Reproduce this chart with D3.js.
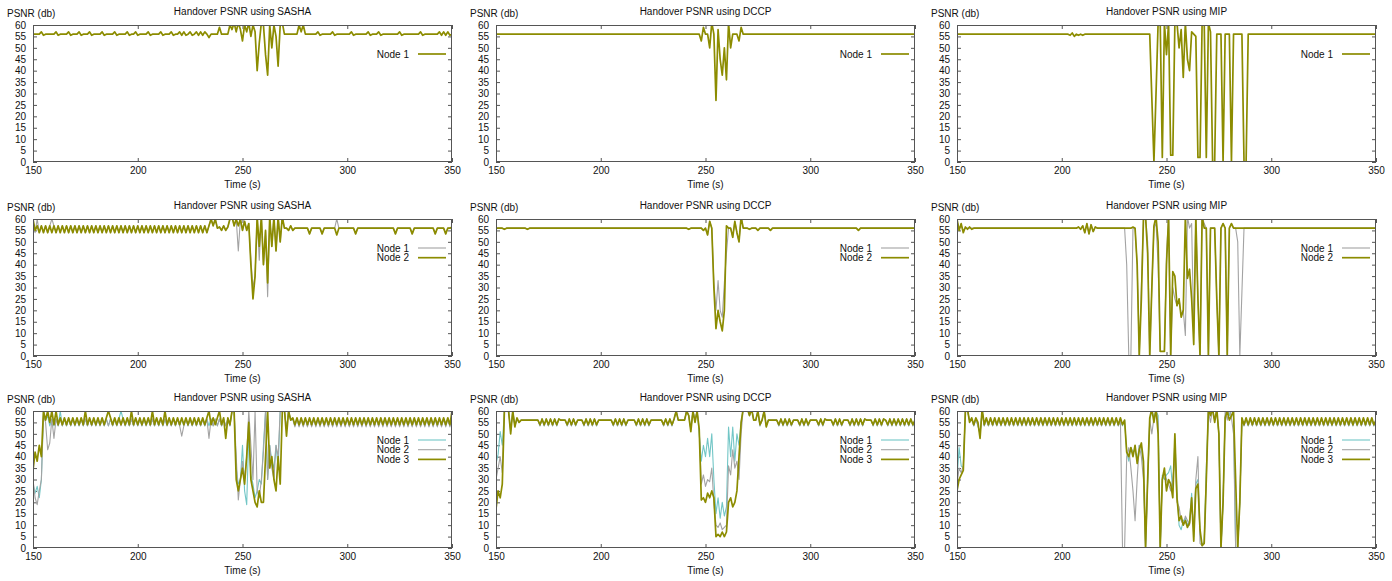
<!DOCTYPE html>
<html>
<head>
<meta charset="utf-8">
<script src="https://cdnjs.cloudflare.com/ajax/libs/d3/7.8.5/d3.min.js"></script>
<style>
  body { margin: 0; background: #fff; }
  svg { display: block; font-family: "Liberation Sans", Arial, sans-serif; }
</style>
</head>
<body>
<div id="wrapper"></div>
<script>

// one PSNR sample per second, 150 s .. 350 s (201 values per node)
var startTime = 150;

var xTicks = [150, 200, 250, 300, 350];
var yTicks = [0, 5, 10, 15, 20, 25, 30, 35, 40, 45, 50, 55, 60];
var protocols = ['SASHA', 'DCCP', 'MIP'];
var nodeLabels = ['Node 1', 'Node 2', 'Node 3'];

/*** 1 node ***/
var sasha1Node1 = [
  56, 56, 56, 56, 57, 55.5, 56, 56, 56, 56,
  56, 57, 55.5, 56, 56, 56, 56, 57, 55.5, 56,
  56, 56, 57, 55.5, 56, 56, 56, 57, 55.5, 56,
  56, 56, 56, 57, 55.5, 56, 56, 56, 56, 57,
  55.5, 56, 56, 56, 56, 57, 55.5, 56, 56, 57,
  55.5, 56, 56, 56, 56, 57, 55.5, 56, 56, 56,
  56, 57, 55.5, 56, 56, 56, 57, 55.5, 56, 56,
  57, 55.5, 57, 55.5, 56, 57, 55.5, 56, 57, 55.5,
  57, 55.5, 57, 56, 54.5, 56, 56, 56, 56, 59,
  56, 56, 56, 56, 60, 58, 61, 57, 61, 58,
  53, 60, 57, 61, 55, 60, 57, 40, 52, 61,
  60, 47, 38, 60, 50, 60, 55, 42, 60, 61,
  56, 56, 56, 56, 56, 56, 56, 60, 57, 60,
  56, 56, 56, 56, 56, 56, 57, 55.5, 56, 56,
  56, 56, 56, 57, 55.5, 56, 56, 56, 56, 56,
  56, 56, 57, 55.5, 56, 56, 56, 56, 56, 56,
  57, 55.5, 56, 56, 56, 57, 55.5, 56, 56, 56,
  56, 56, 56, 56, 56, 57, 55.5, 56, 56, 56,
  56, 56, 56, 56, 56, 57, 55.5, 56, 56, 56,
  56, 56, 56, 56, 57, 55.5, 57, 55.5, 57, 55.5,
  56
];

var dccp1Node1 = [
  56, 56, 56, 56, 56, 56, 56, 56, 56, 56,
  56, 56, 56, 56, 56, 56, 56, 56, 56, 56,
  56, 56, 56, 56, 56, 56, 56, 56, 56, 56,
  56, 56, 56, 56, 56, 56, 56, 56, 56, 56,
  56, 56, 56, 56, 56, 56, 56, 56, 56, 56,
  56, 56, 56, 56, 56, 56, 56, 56, 56, 56,
  56, 56, 56, 56, 56, 56, 56, 56, 56, 56,
  56, 56, 56, 56, 56, 56, 56, 56, 56, 56,
  56, 56, 56, 56, 56, 56, 56, 56, 56, 56,
  56, 56, 56, 56, 56, 56, 56, 56, 53, 59,
  56, 56, 50, 61, 56, 27, 58, 45, 38, 50,
  36, 61, 50, 56, 56, 56, 53, 59, 56, 56,
  56, 56, 56, 56, 56, 56, 56, 56, 56, 56,
  56, 56, 56, 56, 56, 56, 56, 56, 56, 56,
  56, 56, 56, 56, 56, 56, 56, 56, 56, 56,
  56, 56, 56, 56, 56, 56, 56, 56, 56, 56,
  56, 56, 56, 56, 56, 56, 56, 56, 56, 56,
  56, 56, 56, 56, 56, 56, 56, 56, 56, 56,
  56, 56, 56, 56, 56, 56, 56, 56, 56, 56,
  56, 56, 56, 56, 56, 56, 56, 56, 56, 56,
  56
];

var mip1Node1 = [
  56, 56, 56, 56, 56, 56, 56, 56, 56, 56,
  56, 56, 56, 56, 56, 56, 56, 56, 56, 56,
  56, 56, 56, 56, 56, 56, 56, 56, 56, 56,
  56, 56, 56, 56, 56, 56, 56, 56, 56, 56,
  56, 56, 56, 56, 56, 56, 56, 56, 56, 56,
  56, 56, 56, 56, 55.5, 56.5, 55, 56, 55.5, 56,
  55.5, 56, 56, 56, 56, 56, 56, 56, 56, 56,
  56, 56, 56, 56, 56, 56, 56, 56, 56, 56,
  56, 56, 56, 56, 56, 56, 56, 56, 56, 56,
  56, 56, 56, 28, 0, 30, 61, 61, 2, 61,
  47, 61, 3, 3, 61, 61, 50, 58, 37, 61,
  45, 40, 57, 56, 55, 2, 2, 61, 61, 2,
  61, 57, 0, 0, 56, 56, 56, 0, 56, 56,
  56, 0, 56, 56, 56, 56, 56, 0, 0, 56,
  56, 56, 56, 56, 56, 56, 56, 56, 56, 56,
  56, 56, 56, 56, 56, 56, 56, 56, 56, 56,
  56, 56, 56, 56, 56, 56, 56, 56, 56, 56,
  56, 56, 56, 56, 56, 56, 56, 56, 56, 56,
  56, 56, 56, 56, 56, 56, 56, 56, 56, 56,
  56, 56, 56, 56, 56, 56, 56, 56, 56, 56,
  56
];

/*** 2 nodes ***/
var sasha2Node1 = [
  57, 54, 60, 54, 57, 54, 57, 54, 57, 60,
  57, 54, 57, 54, 57, 54, 57, 54, 57, 54,
  57, 54, 57, 54, 57, 54, 57, 54, 57, 54,
  57, 54, 57, 54, 57, 54, 57, 54, 57, 54,
  57, 54, 57, 54, 57, 54, 57, 54, 57, 54,
  57, 54, 57, 54, 57, 54, 57, 54, 57, 54,
  57, 54, 57, 54, 57, 54, 57, 54, 57, 54,
  57, 54, 57, 54, 57, 54, 57, 54, 57, 54,
  57, 54, 57, 54, 57, 60, 57, 60, 56, 56.5,
  55, 57, 55, 56.5, 60, 61, 57, 60, 46, 60,
  55, 59, 55, 58, 42, 30, 35, 61, 42, 61,
  40, 55, 26, 61, 48, 61, 46, 61, 50, 61,
  56, 56, 55, 57, 55, 56, 56, 56, 56, 56,
  56, 56, 53.5, 56, 56, 56, 56, 56, 53.5, 56,
  56, 56, 56, 56, 56, 60, 56, 56, 56, 56,
  56, 56, 56, 56, 53.5, 56, 56, 56, 56, 56,
  56, 56, 56, 56, 56, 56, 56, 56, 56, 56,
  56, 56, 56, 53.5, 56, 56, 56, 56, 56, 56,
  56, 53.5, 56, 56, 56, 56, 56, 56, 56, 56,
  56, 56, 53.5, 56, 56, 56, 56, 53.5, 56, 56,
  55.5
];

var sasha2Node2 = [
  60, 55, 57, 54, 57, 54, 57, 54, 57, 54,
  57, 54, 57, 54, 57, 54, 57, 54, 57, 54,
  57, 54, 57, 54, 57, 54, 57, 54, 57, 54,
  57, 54, 57, 54, 57, 54, 57, 54, 57, 54,
  57, 54, 57, 54, 57, 54, 57, 54, 57, 54,
  57, 54, 57, 54, 57, 54, 57, 54, 57, 54,
  57, 54, 57, 54, 57, 54, 57, 54, 57, 54,
  57, 54, 57, 54, 57, 54, 57, 54, 57, 54,
  57, 54, 57, 54, 57, 60, 57, 60, 56, 56.5,
  55, 57, 55, 56.5, 60, 61, 57, 60, 57, 60,
  55, 59, 55, 58, 40, 25, 35, 61, 48, 61,
  40, 55, 32, 61, 48, 61, 46, 61, 50, 61,
  56, 56, 55, 57, 55, 56, 56, 56, 56, 56,
  56, 56, 53.5, 56, 56, 56, 56, 56, 53.5, 56,
  56, 56, 56, 56, 56, 53, 56, 56, 56, 56,
  56, 56, 56, 56, 53.5, 56, 56, 56, 56, 56,
  56, 56, 56, 56, 56, 56, 56, 56, 56, 56,
  56, 56, 56, 53.5, 56, 56, 56, 56, 56, 56,
  56, 53.5, 56, 56, 56, 56, 56, 56, 56, 56,
  56, 56, 53.5, 56, 56, 56, 56, 53.5, 56, 56,
  56.5
];

var dccp2Node1 = [
  56, 56, 56, 56, 55.5, 56, 56, 56, 56, 56,
  56, 56, 56, 56, 56, 55.5, 56, 56, 56, 56,
  56, 56, 56, 56, 56, 56, 56, 56, 56, 56,
  56, 56, 56, 56, 56, 56, 56, 56, 56, 56,
  56, 56, 56, 56, 56, 56, 56, 56, 56, 56,
  56, 56, 56, 56, 56, 56, 56, 56, 56, 56,
  56, 56, 56, 56, 56, 56, 56, 56, 56, 56,
  56, 56, 56, 56, 56, 56, 56, 56, 56, 56,
  56, 56, 56, 56, 56, 56, 56, 56, 56, 56,
  56, 56, 55.5, 56, 56, 56, 56, 56, 56, 55,
  56, 53, 59, 56, 32, 20, 33, 20, 17, 32,
  45, 56, 56, 52, 59, 54, 50, 61, 56, 56,
  56, 55.5, 56, 56, 56, 55, 56, 56, 56, 56,
  56, 55, 56, 56, 56, 56, 56, 56, 56, 56,
  56, 56, 56, 56, 56, 56, 56, 56, 56, 56,
  56, 56, 56, 56, 56, 56, 56, 56, 56, 56,
  56, 56, 56, 56, 56, 56, 56, 56, 56, 56,
  56, 56, 56, 55, 56, 56, 56, 56, 56, 56,
  56, 56, 56, 56, 56, 56, 56, 56, 56, 56,
  56, 56, 56, 56, 56, 56, 56, 56, 56, 56,
  56
];

var dccp2Node2 = [
  56, 56, 56, 56, 55.5, 56, 56, 56, 56, 56,
  56, 56, 56, 56, 56, 55.5, 56, 56, 56, 56,
  56, 56, 56, 56, 56, 56, 56, 56, 56, 56,
  56, 56, 56, 56, 56, 56, 56, 56, 56, 56,
  56, 56, 56, 56, 56, 56, 56, 56, 56, 56,
  56, 56, 56, 56, 56, 56, 56, 56, 56, 56,
  56, 56, 56, 56, 56, 56, 56, 56, 56, 56,
  56, 56, 56, 56, 56, 56, 56, 56, 56, 56,
  56, 56, 56, 56, 56, 56, 56, 56, 56, 56,
  56, 56, 55.5, 56, 56, 56, 56, 56, 56, 55,
  56, 53, 59, 56, 30, 12, 20, 15, 11, 20,
  57, 56, 56, 52, 59, 54, 50, 61, 56, 56,
  56, 55.5, 56, 56, 56, 55, 56, 56, 56, 56,
  56, 55, 56, 56, 56, 56, 56, 56, 56, 56,
  56, 56, 56, 56, 56, 56, 56, 56, 56, 56,
  56, 56, 56, 56, 56, 56, 56, 56, 56, 56,
  56, 56, 56, 56, 56, 56, 56, 56, 56, 56,
  56, 56, 56, 55, 56, 56, 56, 56, 56, 56,
  56, 56, 56, 56, 56, 56, 56, 56, 56, 56,
  56, 56, 56, 56, 56, 56, 56, 56, 56, 56,
  56
];

var mip2Node1 = [
  59, 56, 57, 55, 56, 56, 56, 56, 56, 56,
  56, 56, 56, 56, 56, 56, 56, 56, 56, 56,
  56, 56, 56, 56, 56, 56, 56, 56, 56, 56,
  56, 56, 56, 56, 56, 56, 56, 56, 56, 56,
  56, 56, 56, 56, 56, 56, 56, 56, 56, 56,
  56, 56, 56, 56, 56, 56, 56, 56, 56.5, 55.5,
  57, 54, 58, 53.5, 57.5, 54.5, 56.5, 56, 56, 56,
  56, 56, 56, 56, 56, 56, 56, 56, 56, 56,
  56, 40, 0, 0, 56, 56, 40, 0, 30, 60,
  61, 50, 0, 30, 56, 58, 40, 2, 2, 2,
  45, 61, 0, 30, 25, 22, 25, 18, 20, 9,
  61, 56, 58, 10, 61, 25, 0, 61, 58, 56,
  0, 56, 56, 56, 25, 0, 56, 58, 56, 0,
  56, 58, 56, 56, 50, 0, 28, 56, 56, 56,
  56, 56, 56, 56, 56, 56, 56, 56, 56, 56,
  56, 56, 56, 56, 56, 56, 56, 56, 56, 56,
  56, 56, 56, 56, 56, 56, 56, 56, 56, 56,
  56, 56, 56, 56, 56, 56, 56, 56, 56, 56,
  56, 56, 56, 56, 56, 56, 56, 56, 56, 56,
  56, 56, 56, 56, 56, 56, 56, 56, 56, 56,
  56
];

var mip2Node2 = [
  60, 55, 58, 54, 56.5, 55.5, 56.5, 55.5, 56, 56,
  56, 56, 56, 56, 56, 56, 56, 56, 56, 56,
  56, 56, 56, 56, 56, 56, 56, 56, 56, 56,
  56, 56, 56, 56, 56, 56, 56, 56, 56, 56,
  56, 56, 56, 56, 56, 56, 56, 56, 56, 56,
  56, 56, 56, 56, 56, 56, 56, 56, 56.5, 55.5,
  57, 54, 58, 53.5, 57.5, 54.5, 56.5, 56, 56, 56,
  56, 56, 56, 56, 56, 56, 56, 56, 56, 56,
  56, 56, 56, 56, 56.5, 56, 40, 0, 25, 60,
  61, 45, 0, 30, 57, 61, 50, 2, 2, 2,
  40, 61, 0, 37, 35, 22, 25, 17, 20, 61,
  34, 38, 25, 5, 61, 25, 0, 61, 56, 56,
  0, 56, 56, 56, 25, 0, 56, 58, 56, 0,
  56, 58, 56, 56, 56, 56, 56, 56, 56, 56,
  56, 56, 56, 56, 56, 56, 56, 56, 56, 56,
  56, 56, 56, 56, 56, 56, 56, 56, 56, 56,
  56, 56, 56, 56, 56, 56, 56, 56, 56, 56,
  56, 56, 56, 56, 56, 56, 56, 56, 56, 56,
  56, 56, 56, 56, 56, 56, 56, 56, 56, 56,
  56, 56, 56, 56, 56, 56, 56, 56, 56, 56,
  56
];

/*** 3 nodes ***/
var sasha3Node1 = [
  28, 24, 27, 22, 30, 60, 56, 58, 53.5, 56.5,
  53.5, 56.5, 53.5, 60, 53.5, 56.5, 53.5, 56.5, 53.5, 56.5,
  53.5, 56.5, 53.5, 56.5, 53.5, 56.5, 53.5, 56.5, 53.5, 56.5,
  53.5, 56.5, 53.5, 56.5, 53.5, 56.5, 53.5, 56.5, 53.5, 56.5,
  53.5, 56.5, 60, 56.5, 53.5, 56.5, 53.5, 56.5, 53.5, 56.5,
  53.5, 56.5, 53.5, 56.5, 53.5, 56.5, 53.5, 56.5, 53.5, 56.5,
  53.5, 56.5, 53.5, 56.5, 53.5, 56.5, 53.5, 56.5, 53.5, 56.5,
  53.5, 56.5, 53.5, 56.5, 53.5, 56.5, 53.5, 56.5, 53.5, 56.5,
  53.5, 56.5, 53.5, 56.5, 53.5, 56.5, 53.5, 56.5, 53.5, 56.5,
  53.5, 56.5, 53.5, 56.5, 53.5, 60, 60, 35, 28, 30,
  45, 25, 19, 50, 32, 28, 22, 25, 30, 28,
  45, 60, 30, 45, 38, 35, 45, 35, 60, 61,
  60, 52, 60, 56, 56.5, 53.5, 56.5, 53.5, 56.5, 53.5,
  56.5, 53.5, 56.5, 53.5, 56.5, 53.5, 56.5, 53.5, 56.5, 53.5,
  56.5, 53.5, 56.5, 53.5, 56.5, 53.5, 56.5, 53.5, 56.5, 53.5,
  56.5, 53.5, 56.5, 53.5, 56.5, 53.5, 56.5, 53.5, 56.5, 53.5,
  56.5, 53.5, 56.5, 53.5, 56.5, 53.5, 56.5, 53.5, 56.5, 53.5,
  56.5, 53.5, 56.5, 53.5, 56.5, 53.5, 56.5, 53.5, 56.5, 53.5,
  56.5, 53.5, 56.5, 53.5, 56.5, 53.5, 56.5, 53.5, 56.5, 53.5,
  56.5, 53.5, 56.5, 53.5, 56.5, 53.5, 56.5, 53.5, 56.5, 53.5,
  58
];

var sasha3Node2 = [
  30, 22, 19, 25, 30, 58, 55, 43, 46, 56.5,
  48, 56.5, 53.5, 56.5, 53.5, 56.5, 53.5, 56.5, 53.5, 56.5,
  53.5, 56.5, 53.5, 56.5, 53.5, 56.5, 53.5, 56.5, 53.5, 56.5,
  53.5, 56.5, 53.5, 56.5, 53.5, 56.5, 53.5, 56.5, 53.5, 56.5,
  53.5, 56.5, 53.5, 56.5, 53.5, 56.5, 53.5, 56.5, 53.5, 56.5,
  53.5, 56.5, 53.5, 56.5, 53.5, 56.5, 53.5, 56.5, 53.5, 56.5,
  53.5, 56.5, 53.5, 56.5, 53.5, 56.5, 53.5, 56.5, 53.5, 56.5,
  53.5, 49, 53.5, 56.5, 53.5, 56.5, 53.5, 56.5, 53.5, 56.5,
  53.5, 56.5, 53.5, 56.5, 48, 56.5, 53.5, 56.5, 53.5, 56.5,
  53.5, 56.5, 53.5, 56.5, 53.5, 60, 60, 40, 21, 30,
  38, 30, 40, 60, 45, 30, 60, 25, 22, 30,
  42, 60, 30, 45, 35, 30, 45, 40, 60, 61,
  60, 52, 60, 56, 56.5, 53, 56.5, 53, 56.5, 53,
  56.5, 53, 56.5, 53, 56.5, 53, 56.5, 53, 56.5, 53,
  56.5, 53, 56.5, 53, 56.5, 53, 56.5, 53, 56.5, 53,
  56.5, 53, 56.5, 53, 56.5, 53, 56.5, 53, 56.5, 53,
  56.5, 53, 56.5, 53, 56.5, 53, 56.5, 53, 56.5, 53,
  56.5, 53, 56.5, 53, 56.5, 53, 56.5, 53, 56.5, 53,
  56.5, 53, 56.5, 53, 56.5, 53, 56.5, 53, 56.5, 53,
  56.5, 53, 56.5, 53, 56.5, 53, 56.5, 53, 56.5, 53,
  57
];

var sasha3Node3 = [
  34, 42, 38, 45, 40, 60, 56, 60, 55, 60,
  54, 60, 54, 57, 54, 57, 54, 57, 54, 57,
  54, 57, 54, 57, 54, 60, 54, 57, 54, 57,
  54, 57, 54, 57, 54, 57, 60, 57, 54, 57,
  54, 57, 54, 57, 54, 57, 54, 60, 54, 57,
  54, 57, 54, 57, 54, 57, 54, 60, 54, 57,
  54, 57, 54, 60, 54, 57, 54, 57, 54, 57,
  54, 57, 54, 57, 54, 57, 54, 57, 54, 57,
  54, 57, 54, 57, 60, 54, 57, 54, 57, 60,
  54, 57, 48, 57, 54, 60, 60, 30, 25, 30,
  35, 28, 40, 55, 30, 25, 20, 18, 25, 20,
  20, 40, 60, 35, 40, 30, 25, 40, 28, 60,
  61, 49, 60, 56, 57, 54, 57, 54, 57, 54,
  57, 54, 57, 54, 57, 54, 57, 54, 57, 54,
  57, 54, 57, 54, 57, 54, 57, 54, 57, 54,
  57, 54, 57, 54, 57, 54, 57, 54, 57, 54,
  57, 54, 57, 54, 57, 54, 57, 54, 57, 54,
  57, 54, 57, 54, 57, 54, 57, 54, 57, 54,
  57, 54, 57, 54, 57, 54, 57, 54, 57, 54,
  57, 54, 57, 54, 57, 54, 57, 54, 57, 54,
  60
];

var dccp3Node1 = [
  37, 41, 51, 45, 60, 61, 60, 52, 60, 53.5,
  56.5, 55, 56, 56, 56, 56, 56, 56, 56, 56,
  56, 53.5, 56.5, 53.5, 56.5, 53.5, 56.5, 53.5, 56.5, 53.5,
  56.5, 56, 56, 56, 53.5, 56.5, 53.5, 56.5, 53.5, 56,
  56, 56, 53.5, 56.5, 53.5, 56.5, 53.5, 56.5, 53.5, 56,
  56, 56, 56, 56, 56, 56, 53.5, 56.5, 53.5, 56.5,
  53.5, 56.5, 53.5, 56, 56, 56, 56, 53.5, 56.5, 53.5,
  56.5, 53.5, 56.5, 53.5, 56, 56, 56, 56, 56, 56,
  53.5, 56.5, 53.5, 56.5, 53.5, 56.5, 60, 56, 56, 56,
  56, 60, 58, 52, 60, 56, 60, 50, 38, 45,
  40, 48, 40, 50, 30, 15, 22, 13, 20, 14,
  18, 53, 40, 53, 38, 50, 45, 55, 61, 60,
  61, 58, 61, 56, 56, 60, 53.5, 56, 60, 53.5,
  56, 56, 56, 56, 56, 53.5, 56.5, 53.5, 56.5, 53.5,
  56.5, 53.5, 56, 56, 56, 53.5, 56.5, 53.5, 56.5, 53.5,
  56, 56, 56, 56, 53.5, 56.5, 53.5, 56.5, 56, 56,
  56, 53.5, 56.5, 53.5, 56.5, 53.5, 56, 56, 56, 53.5,
  56.5, 53.5, 56.5, 53.5, 56.5, 53.5, 56.5, 56, 56, 56,
  53.5, 56.5, 53.5, 56.5, 53.5, 56.5, 56, 53.5, 56.5, 53.5,
  56.5, 53.5, 56.5, 53.5, 56.5, 53.5, 56.5, 53.5, 56.5, 53.5,
  56
];

var dccp3Node2 = [
  30, 35, 40, 33, 60, 61, 60, 51, 60, 53.5,
  56.5, 55, 56, 56, 56, 56, 56, 56, 56, 56,
  56, 53.5, 56.5, 53.5, 56.5, 53.5, 56.5, 53.5, 56.5, 53.5,
  56.5, 56, 56, 56, 53.5, 56.5, 53.5, 56.5, 53.5, 56,
  56, 56, 53.5, 56.5, 53.5, 56.5, 53.5, 56.5, 53.5, 56,
  56, 56, 56, 56, 56, 56, 53.5, 56.5, 53.5, 56.5,
  53.5, 56.5, 53.5, 56, 56, 56, 56, 53.5, 56.5, 53.5,
  56.5, 53.5, 56.5, 53.5, 56, 56, 56, 56, 56, 56,
  53.5, 56.5, 53.5, 56.5, 53.5, 56.5, 60, 56, 56, 56,
  56, 60, 58, 52, 60, 56, 60, 52, 28, 32,
  27, 30, 29, 35, 20, 10, 9, 11, 8, 9,
  10, 36, 32, 43, 35, 38, 30, 50, 61, 60,
  61, 58, 61, 56, 56, 60, 53.5, 56, 60, 53.5,
  56, 56, 56, 56, 56, 53.5, 56.5, 53.5, 56.5, 53.5,
  56.5, 53.5, 56, 56, 56, 53.5, 56.5, 53.5, 56.5, 53.5,
  56, 56, 56, 56, 53.5, 56.5, 53.5, 56.5, 56, 56,
  56, 53.5, 56.5, 53.5, 56.5, 53.5, 56, 56, 56, 53.5,
  56.5, 53.5, 56.5, 53.5, 56.5, 53.5, 56.5, 56, 56, 56,
  53.5, 56.5, 53.5, 56.5, 53.5, 56.5, 56, 53.5, 56.5, 53.5,
  56.5, 53.5, 56.5, 53.5, 56.5, 53.5, 56.5, 53.5, 56.5, 53.5,
  56
];

var dccp3Node3 = [
  17, 25, 22, 28, 60, 61, 60, 50, 60, 53,
  57, 55, 56, 56, 56, 56, 56, 56, 56, 56,
  56, 54, 56.5, 54, 56.5, 54, 56.5, 54, 56.5, 54,
  56.5, 56, 56, 56, 54, 56.5, 54, 56.5, 54, 56,
  56, 56, 54, 56.5, 54, 56.5, 54, 56.5, 54, 56,
  56, 56, 56, 56, 56, 56, 54, 56.5, 54, 56.5,
  54, 56.5, 54, 56, 56, 56, 56, 54, 56.5, 54,
  56.5, 54, 56.5, 54, 56, 56, 56, 56, 56, 56,
  54, 56.5, 54, 56.5, 54, 56.5, 60, 56, 56, 56,
  56, 60, 58, 51, 60, 55, 60, 52, 21, 22,
  20, 24, 22, 25, 22, 5, 6, 5, 7, 5,
  7, 20, 22, 18, 20, 25, 40, 55, 61, 60,
  61, 58, 61, 56, 56, 60, 54, 56, 60, 53,
  56, 56, 56, 56, 56, 54, 56.5, 54, 56.5, 54,
  56.5, 54, 56, 56, 56, 54, 56.5, 54, 56.5, 54,
  56, 56, 56, 56, 54, 56.5, 54, 56.5, 56, 56,
  56, 54, 56.5, 54, 56.5, 54, 56, 56, 56, 54,
  56.5, 54, 56.5, 54, 56.5, 54, 56.5, 56, 56, 56,
  54, 56.5, 54, 56.5, 54, 56.5, 56, 54, 56.5, 54,
  56.5, 54, 56.5, 54, 56.5, 54, 56.5, 54, 56.5, 54,
  56
];

var mip3Node1 = [
  30, 44, 36, 35, 60, 60, 56, 56.5, 53.5, 56.5,
  53.5, 50, 60, 53.5, 56.5, 53.5, 56.5, 53.5, 56.5, 53.5,
  56.5, 53.5, 56.5, 53.5, 56.5, 53.5, 56.5, 53.5, 56.5, 53.5,
  56.5, 53.5, 56.5, 53.5, 56.5, 53.5, 56.5, 53.5, 56.5, 53.5,
  56.5, 53.5, 56.5, 53.5, 56.5, 53.5, 56.5, 53.5, 56.5, 53.5,
  56.5, 53.5, 56.5, 53.5, 56.5, 53.5, 56.5, 53.5, 56.5, 53.5,
  56.5, 53.5, 56.5, 53.5, 56.5, 53.5, 56.5, 53.5, 56.5, 53.5,
  56.5, 53.5, 56.5, 53.5, 56.5, 53.5, 56.5, 53.5, 56.5, 53.5,
  56, 42, 38, 44, 42, 43, 38, 45, 44, 36,
  0, 28, 56, 60, 57, 60, 58, 0, 32, 30,
  32, 33, 36, 25, 48, 25, 10, 8, 12, 13,
  10, 12, 24, 5, 28, 30, 6, 1, 3, 35,
  60, 60, 60, 56, 60, 50, 0, 20, 58, 61,
  58, 61, 57, 0, 0, 20, 56.5, 53.5, 56.5, 53.5,
  56.5, 53.5, 56.5, 53.5, 56.5, 53.5, 56.5, 53.5, 56.5, 53.5,
  56.5, 53.5, 56.5, 53.5, 56.5, 53.5, 56.5, 53.5, 56.5, 53.5,
  56.5, 53.5, 56.5, 53.5, 56.5, 53.5, 56.5, 53.5, 56.5, 53.5,
  56.5, 53.5, 56.5, 53.5, 56.5, 53.5, 56.5, 53.5, 56.5, 53.5,
  56.5, 53.5, 56.5, 53.5, 56.5, 53.5, 56.5, 53.5, 56.5, 53.5,
  56.5, 53.5, 56.5, 53.5, 56.5, 53.5, 56.5, 53.5, 56.5, 53.5,
  56
];

var mip3Node2 = [
  28, 35, 33, 36, 60, 60, 56, 56.5, 53.5, 56.5,
  53.5, 50, 60, 53.5, 56.5, 53.5, 56.5, 53.5, 56.5, 53.5,
  56.5, 53.5, 56.5, 53.5, 56.5, 53.5, 56.5, 53.5, 56.5, 53.5,
  56.5, 53.5, 56.5, 53.5, 56.5, 53.5, 56.5, 53.5, 56.5, 53.5,
  56.5, 53.5, 56.5, 53.5, 56.5, 53.5, 56.5, 53.5, 56.5, 53.5,
  56.5, 53.5, 56.5, 53.5, 56.5, 53.5, 56.5, 53.5, 56.5, 53.5,
  56.5, 53.5, 56.5, 53.5, 56.5, 53.5, 56.5, 53.5, 56.5, 53.5,
  56.5, 53.5, 56.5, 53.5, 56.5, 53.5, 56.5, 53.5, 56, 0,
  0, 40, 44, 35, 25, 12, 30, 45, 40, 30,
  0, 30, 56, 50, 57, 60, 55, 0, 30, 33,
  30, 28, 25, 30, 40, 20, 18, 12, 10, 14,
  12, 10, 20, 8, 30, 40, 2, 1, 2, 30,
  60, 55, 61, 56, 60, 50, 0, 20, 60, 56,
  61, 57, 50, 0, 0, 20, 56.5, 53.5, 56.5, 53.5,
  56.5, 53.5, 56.5, 53.5, 56.5, 53.5, 56.5, 53.5, 56.5, 53.5,
  56.5, 53.5, 56.5, 53.5, 56.5, 53.5, 56.5, 53.5, 56.5, 53.5,
  56.5, 53.5, 56.5, 53.5, 56.5, 53.5, 56.5, 53.5, 56.5, 53.5,
  56.5, 53.5, 56.5, 53.5, 56.5, 53.5, 56.5, 53.5, 56.5, 53.5,
  56.5, 53.5, 56.5, 53.5, 56.5, 53.5, 56.5, 53.5, 56.5, 53.5,
  56.5, 53.5, 56.5, 53.5, 56.5, 53.5, 56.5, 53.5, 56.5, 53.5,
  56
];

var mip3Node3 = [
  25, 30, 32, 34, 60, 61, 55, 57, 54, 57,
  55, 48, 61, 54, 57, 54, 57, 54, 57, 54,
  57, 54, 57, 54, 57, 54, 57, 54, 57, 54,
  57, 54, 57, 54, 57, 54, 57, 54, 57, 54,
  57, 54, 57, 54, 57, 54, 57, 54, 57, 54,
  57, 54, 57, 54, 57, 54, 57, 54, 57, 54,
  57, 54, 57, 54, 57, 54, 57, 54, 57, 54,
  57, 54, 57, 54, 57, 54, 57, 54, 57, 54,
  56, 42, 40, 44, 40, 45, 37, 43, 46, 38,
  0, 30, 57, 61, 55, 61, 50, 0, 30, 35,
  25, 30, 28, 22, 50, 22, 12, 14, 10, 12,
  9, 11, 22, 3, 26, 28, 8, 1, 2, 30,
  61, 58, 61, 55, 61, 50, 0, 20, 57, 60,
  56, 58, 60, 30, 0, 20, 57, 54, 57, 54,
  57, 54, 57, 54, 57, 54, 57, 54, 57, 54,
  57, 54, 57, 54, 57, 54, 57, 54, 57, 54,
  57, 54, 57, 54, 57, 54, 57, 54, 57, 54,
  57, 54, 57, 54, 57, 54, 57, 54, 57, 54,
  57, 54, 57, 54, 57, 54, 57, 54, 57, 54,
  57, 54, 57, 54, 57, 54, 57, 54, 57, 54,
  56
];

// grid of panels: rows = number of nodes, columns = protocol
var panelSeries = [
  [[sasha1Node1], [dccp1Node1], [mip1Node1]],
  [[sasha2Node1, sasha2Node2], [dccp2Node1, dccp2Node2], [mip2Node1, mip2Node2]],
  [[sasha3Node1, sasha3Node2, sasha3Node3], [dccp3Node1, dccp3Node2, dccp3Node3], [mip3Node1, mip3Node2, mip3Node3]]
];

// olive is always the last node, drawn on top
var olive = '#8c8c00', grey = '#a3a3a3', teal = '#72c6c6';
var colorsByCount = { 1: [olive], 2: [grey, olive], 3: [teal, grey, olive] };
var widthsByCount = { 1: [1.7], 2: [1.1, 1.7], 3: [1.1, 1.1, 1.7] };

var colLeft = [33, 496, 957];
var rowTop = [25, 219, 411];
var plotW = 419, plotH = 137;
var axisColor = '#555';

var svg = d3.select('#wrapper').append('svg')
    .attr('width', 1392)
    .attr('height', 581);

var x = d3.scaleLinear().domain([150, 350]).range([0, plotW]);
var y = d3.scaleLinear().domain([0, 60]).range([plotH, 0]);

var line = d3.line()
    .x(function(d, i) { return x(startTime + i); })
    .y(function(d) { return y(d); });

panelSeries.forEach(function(row, r) {
    row.forEach(function(series, c) {
        var g = svg.append('g')
            .attr('transform', 'translate(' + colLeft[c] + ',' + rowTop[r] + ')');

        var clipId = 'clip-' + r + '-' + c;
        g.append('defs').append('clipPath')
            .attr('id', clipId)
            .append('rect')
            .attr('width', plotW)
            .attr('height', plotH);

        // axes, ticks point inward and are mirrored
        var xb = g.append('g').attr('transform', 'translate(0,' + plotH + ')')
            .call(d3.axisBottom(x).tickValues(xTicks).tickSize(-4).tickPadding(5));
        var xt = g.append('g')
            .call(d3.axisTop(x).tickValues(xTicks).tickSize(-4).tickFormat(''));
        var yl = g.append('g')
            .call(d3.axisLeft(y).tickValues(yTicks).tickSize(-4).tickPadding(7));
        var yr = g.append('g').attr('transform', 'translate(' + plotW + ',0)')
            .call(d3.axisRight(y).tickValues(yTicks).tickSize(-4).tickFormat(''));

        [xb, xt, yl, yr].forEach(function(a) {
            a.select('.domain').remove();
            a.selectAll('.tick line').attr('stroke', axisColor);
            a.selectAll('.tick text')
                .attr('fill', '#111')
                .style('font-size', '10px')
                .style('font-family', '"Liberation Sans", Arial, sans-serif');
        });

        var plot = g.append('g').attr('clip-path', 'url(#' + clipId + ')');
        var n = series.length;
        series.forEach(function(values, k) {
            plot.append('path')
                .datum(values)
                .attr('fill', 'none')
                .attr('stroke', colorsByCount[n][k])
                .attr('stroke-width', widthsByCount[n][k])
                .attr('stroke-linejoin', 'round')
                .attr('d', line);
        });

        g.append('rect')
            .attr('x', 0.5)
            .attr('y', 0.5)
            .attr('width', plotW - 1)
            .attr('height', plotH - 1)
            .attr('fill', 'none')
            .attr('stroke', axisColor)
            .attr('stroke-width', 1);

        // texts
        g.append('text')
            .attr('x', plotW / 2)
            .attr('y', -10.5)
            .attr('text-anchor', 'middle')
            .style('font-size', '10px')
            .attr('fill', '#111')
            .text('Handover PSNR using ' + protocols[c]);

        g.append('text')
            .attr('x', -26)
            .attr('y', -8)
            .style('font-size', '10px')
            .attr('fill', '#111')
            .text('PSNR (db)');

        g.append('text')
            .attr('x', plotW / 2)
            .attr('y', plotH + 26)
            .attr('text-anchor', 'middle')
            .style('font-size', '10px')
            .attr('fill', '#111')
            .text('Time (s)');

        // legend
        series.forEach(function(values, k) {
            var ly = 29 + k * 9.7;
            g.append('text')
                .attr('x', plotW - 43)
                .attr('y', ly)
                .attr('dy', '0.35em')
                .attr('text-anchor', 'end')
                .style('font-size', '10px')
                .attr('fill', '#111')
                .text(nodeLabels[k]);
            g.append('line')
                .attr('x1', plotW - 34)
                .attr('x2', plotW - 6)
                .attr('y1', ly)
                .attr('y2', ly)
                .attr('stroke', colorsByCount[n][k])
                .attr('stroke-width', widthsByCount[n][k]);
        });
    });
});

</script>
</body>
</html>
